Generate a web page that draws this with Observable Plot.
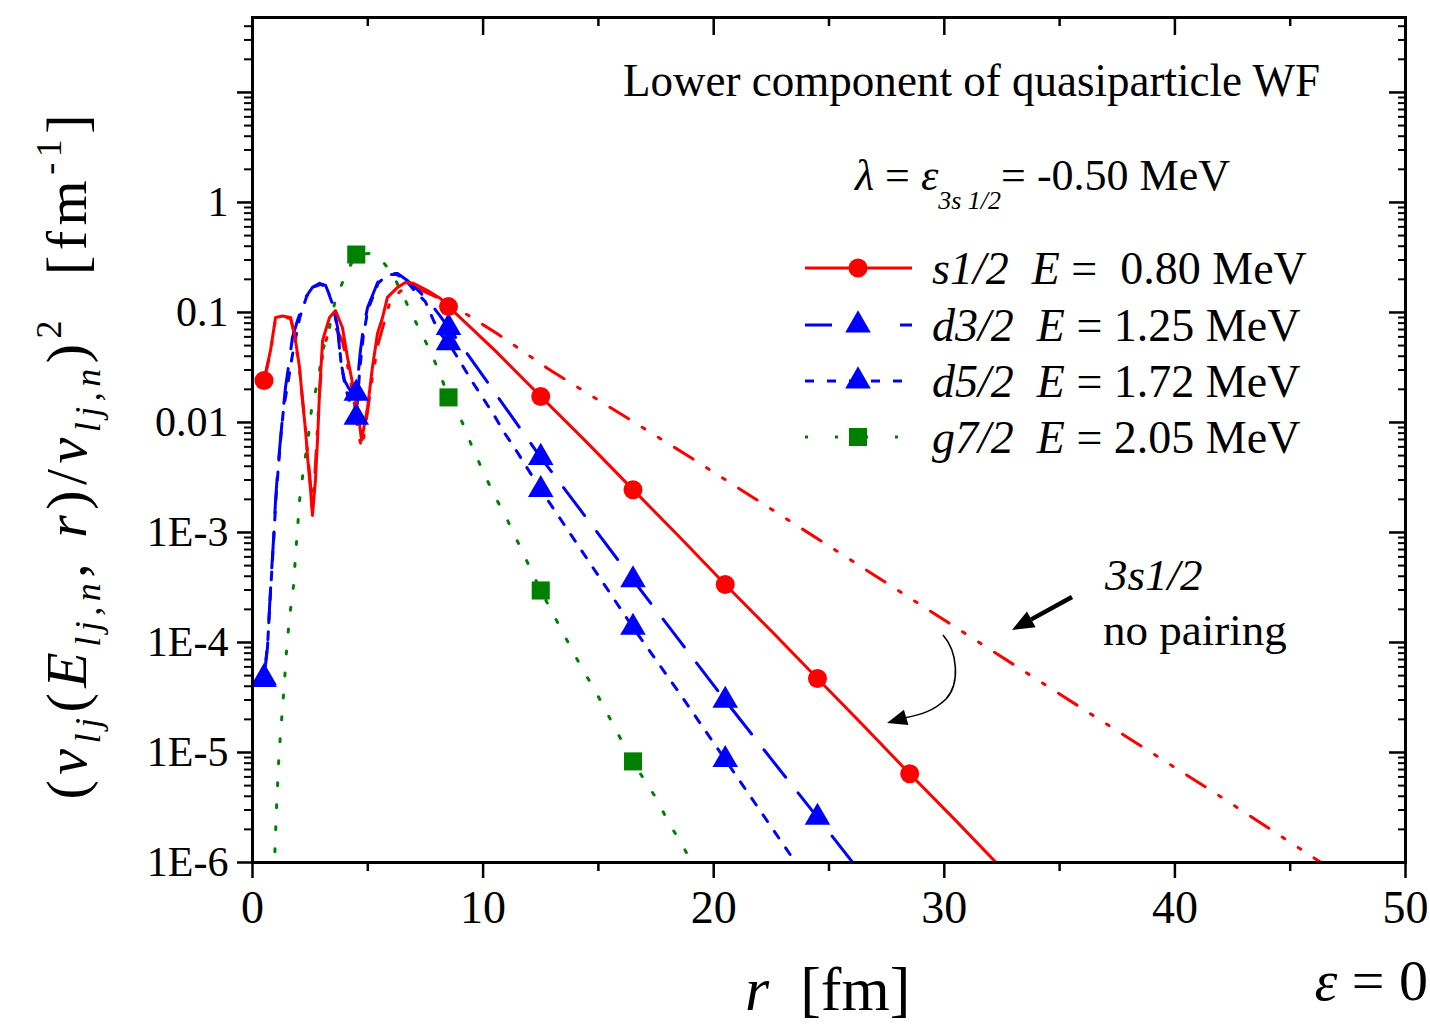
<!DOCTYPE html>
<html><head><meta charset="utf-8">
<script src="https://cdn.jsdelivr.net/npm/d3@7"></script>
<script src="https://cdn.jsdelivr.net/npm/@observablehq/plot@0.6"></script>
<style>
html,body{margin:0;padding:0;background:#fff;}
#chart svg{display:block;}
</style></head><body><div id="chart"></div>
<script>
const FONT = "'Liberation Serif','Times New Roman',serif";

// s1/2, E = 0.80 MeV (solid red)
const s12R = [0.5,0.78,1.0,1.3,1.65,1.82,2.04,2.17,2.30,2.39,2.52,2.60,2.73,2.82,2.91,3.04,3.34,3.60,3.90,4.12,4.34,4.55,4.73,4.99,5.20,5.42,5.64,5.85,6.29,6.63,6.98,7.59,8.15,8.5,10.5,12.5,14.5,16.5,18.5,20.5,22.5,24.5,26.5,28.5,30.5,32.5];
const s12V = [0.0241,0.045,0.090,0.093,0.090,0.0645,0.0316,0.0158,0.0085,0.0048,0.0024,0.00143,0.0030,0.0069,0.0195,0.0556,0.090,0.104,0.073,0.039,0.0226,0.0137,0.0069,0.0137,0.0316,0.0645,0.090,0.137,0.169,0.187,0.184,0.158,0.134,0.113,0.0455,0.0172,0.0066,0.00245,9.2e-4,3.37e-4,1.27e-4,4.7e-5,1.75e-5,6.4e-6,2.4e-6,8.8e-7];
const s12MarkR = [0.5,8.5,12.5,16.5,20.5,24.5,28.5];
const s12MarkV = [0.0241,0.113,0.0172,0.00245,3.37e-4,4.7e-5,6.4e-6];

// 3s1/2 no pairing (dash-dot red)
const npR = [0.5,0.78,1.0,1.3,1.65,1.82,2.04,2.2,2.35,2.5,2.58,2.7,2.8,2.9,3.05,3.3,3.6,3.9,4.15,4.4,4.6,4.75,4.95,5.2,5.45,5.7,5.98,6.55,7.0,7.6,8.5,10.6,12.8,14.4,16.7,19.0,22.0,25.1,28.2,32.0,36.8,41.9,46.5];
const npV = [0.0235,0.044,0.088,0.091,0.088,0.063,0.030,0.014,0.0065,0.003,0.0017,0.0032,0.0075,0.018,0.045,0.066,0.073,0.055,0.031,0.016,0.0075,0.0058,0.011,0.026,0.052,0.08,0.129,0.165,0.17,0.15,0.122,0.0644,0.031,0.0191,0.0096,0.0048,0.0019,7.3e-4,2.79e-4,8.6e-5,1.95e-5,4.07e-6,9.5e-7];

// d3/2, E = 1.25 MeV (long dash blue)
const d32R = [0.5,0.65,0.74,0.82,0.91,1.0,1.08,1.21,1.30,1.43,1.60,1.73,1.95,2.30,2.60,2.91,3.17,3.47,3.69,3.82,3.99,4.2,4.5,4.68,4.8,4.99,5.46,5.85,6.29,6.72,7.1,7.6,8.1,8.5,10.5,12.5,14.5,16.5,18.5,20.5,22.5,24.5,26.2];
const d32V = [4.8e-5,9e-5,2.1e-4,4.2e-4,8.5e-4,1.95e-3,3.4e-3,6.9e-3,0.0111,0.0208,0.0366,0.059,0.0845,0.137,0.169,0.184,0.176,0.123,0.073,0.0366,0.0241,0.020,0.0184,0.045,0.07,0.111,0.195,0.226,0.226,0.195,0.165,0.13,0.095,0.073,0.0188,0.0048,1.34e-3,3.7e-4,1.05e-4,2.97e-5,8.7e-6,2.57e-6,9e-7];
const d32MarkR = [0.5,4.5,8.5,12.5,16.5,20.5,24.5];
const d32MarkV = [4.8e-5,0.0184,0.073,0.0048,3.7e-4,2.97e-5,2.57e-6];

// d5/2, E = 1.72 MeV (short dash blue)
const d52R = [0.5,0.66,0.75,0.84,0.93,1.02,1.12,1.26,1.35,1.52,1.69,1.86,2.05,2.35,2.65,2.95,3.2,3.5,3.72,3.85,4.05,4.3,4.5,4.65,4.8,5.0,5.45,5.85,6.25,6.7,7.0,7.5,7.85,8.15,8.5,9.03,9.5,10.0,10.5,10.95,11.5,12.5,14.5,16.5,18.5,20.5,22.5,23.7];
const d52V = [4.6e-5,1e-4,2.2e-4,4.6e-4,9.5e-4,2.1e-3,3.9e-3,8.8e-3,0.0135,0.0217,0.0366,0.057,0.09,0.14,0.17,0.18,0.17,0.115,0.065,0.033,0.02,0.0135,0.0111,0.03,0.06,0.105,0.185,0.22,0.222,0.19,0.16,0.125,0.0845,0.064,0.053,0.035,0.024,0.0166,0.0114,0.0079,0.0053,0.00245,5.8e-4,1.37e-4,3.5e-5,8.6e-6,2.1e-6,9e-7];
const d52MarkR = [0.5,4.5,8.5,12.5,16.5,20.5];
const d52MarkV = [4.6e-5,0.0111,0.053,0.00245,1.37e-4,8.6e-6];

// g7/2, E = 2.05 MeV (dotted green)
const g72R = [0.9,0.95,1.04,1.13,1.21,1.30,1.39,1.47,1.60,1.78,1.86,1.95,2.04,2.21,2.39,2.56,2.86,3.04,3.30,3.56,4.03,4.5,5.07,5.5,6.07,6.98,7.55,8.07,8.5,9.1,9.54,10.02,10.54,11.06,12.5,14.0,15.09,16.0,16.5,17.04,17.56,18.04,18.56,19.1];
const g72V = [5e-7,9.5e-7,3.1e-6,7.9e-6,1.43e-5,2.5e-5,4.5e-5,8.1e-5,1.65e-4,3.3e-4,5.9e-4,1.06e-3,1.95e-3,3.74e-3,6.6e-3,0.0131,0.0256,0.045,0.067,0.121,0.221,0.336,0.344,0.316,0.226,0.09,0.052,0.030,0.0169,0.01,5.9e-3,3.5e-3,2.08e-3,1.29e-3,2.97e-4,7.5e-5,2.97e-5,1.29e-5,8.3e-6,5.4e-6,3.7e-6,2.3e-6,1.55e-6,9.5e-7];
const g72MarkR = [4.5,8.5,12.5,16.5];
const g72MarkV = [0.336,0.0169,2.97e-4,8.3e-6];

// axes
const xMajorTicks = [0,10,20,30,40,50];
const xMinorTicks = [5,15,25,35,45];
const yMajorTicks = [1e-6,1e-5,1e-4,1e-3,1e-2,1e-1,1,10];
const yTickLabels = ["1E-6","1E-5","1E-4","1E-3","0.01","0.1","1",""];
const yMinorTicks = [];
for (let e = -6; e <= 1; e++) for (let k = 2; k <= 9; k++) { const v = k * Math.pow(10, e); if (v < 48) yMinorTicks.push(+v.toPrecision(3)); }

// legend
const legendNames = ["s1/2","d3/2","d5/2","g7/2"];
const legendRest = [" =  0.80 MeV"," = 1.25 MeV"," = 1.72 MeV"," = 2.05 MeV"];

const rows = (R, V) => R.map((r, i) => ({r, v: V[i]}));

const RED = "#ff0000", BLUE = "#0000ff", GREEN = "#008000";
const TRI_R = 9.5, SQ_R = 10.2, CIRC_R = 9.5;
const styles = {
  s12: {stroke: RED, dash: null},
  np: {stroke: RED, dash: "22,16,3,16,3,16"},
  d32: {stroke: BLUE, dash: "35,20"},
  d52: {stroke: BLUE, dash: "8,12"},
  g72: {stroke: GREEN, dash: "3,19"}
};

const lineMark = (data, s) => Plot.line(data, {x: "r", y: "v", stroke: s.stroke, strokeWidth: 3, strokeDasharray: s.dash, clip: true});

const chart = Plot.plot({
  width: 1430, height: 1027,
  marginLeft: 252, marginRight: 25, marginTop: 17, marginBottom: 165,
  style: {background: "white", fontFamily: FONT, color: "black"},
  x: {domain: [0, 50]},
  y: {type: "log", domain: [1e-6, 48]},
  marks: [
    lineMark(rows(npR, npV), styles.np),
    lineMark(rows(g72R, g72V), styles.g72),
    lineMark(rows(d52R, d52V), styles.d52),
    lineMark(rows(d32R, d32V), styles.d32),
    lineMark(rows(s12R, s12V), styles.s12),
    Plot.dot(rows(g72MarkR, g72MarkV), {x: "r", y: "v", symbol: "square", r: SQ_R, fill: GREEN}),
    Plot.dot(rows(d52MarkR, d52MarkV), {x: "r", y: "v", symbol: "triangle", r: TRI_R, fill: BLUE}),
    Plot.dot(rows(d32MarkR, d32MarkV), {x: "r", y: "v", symbol: "triangle", r: TRI_R, fill: BLUE}),
    Plot.dot(rows(s12MarkR, s12MarkV), {x: "r", y: "v", symbol: "circle", r: CIRC_R, fill: RED}),
    Plot.axisX({ticks: xMajorTicks, tickSize: 16, tickPadding: 12, fontSize: 46, strokeWidth: 2.5, label: null, tickFormat: d => String(d)}),
    Plot.axisX({ticks: xMinorTicks, tickSize: 9, strokeWidth: 2.5, label: null, tickFormat: () => ""}),
    Plot.axisX({anchor: "top", ticks: xMajorTicks, tickSize: 17, dy: 17, strokeWidth: 2.5, label: null, tickFormat: () => ""}),
    Plot.axisX({anchor: "top", ticks: xMinorTicks, tickSize: 8, dy: 8, strokeWidth: 2.5, label: null, tickFormat: () => ""}),
    Plot.axisY({ticks: yMajorTicks, tickSize: 15, tickPadding: 9, fontSize: 42, strokeWidth: 2.5, label: null, tickFormat: d => yTickLabels[yMajorTicks.indexOf(d)]}),
    Plot.axisY({ticks: yMinorTicks, tickSize: 8, strokeWidth: 2, label: null, tickFormat: () => ""}),
    Plot.axisY({anchor: "right", ticks: yMajorTicks, tickSize: 17, dx: -17, strokeWidth: 2.5, label: null, tickFormat: () => ""}),
    Plot.axisY({anchor: "right", ticks: yMinorTicks, tickSize: 8, dx: -8, strokeWidth: 2, label: null, tickFormat: () => ""}),
    Plot.frame({stroke: "black", strokeWidth: 3})
  ]
});
document.getElementById("chart").appendChild(chart);

// ---------- annotations ----------
const svg = d3.select(chart);
const g = svg.append("g").attr("class", "annotations");

function richText(parent, {x, y, size, parts, anchor = "start", transform = null, textLength = null, adjust = "spacingAndGlyphs"}) {
  const t = parent.append("text")
    .attr("x", x).attr("y", y)
    .attr("font-size", size).attr("font-family", FONT).attr("fill", "black")
    .attr("text-anchor", anchor).style("white-space", "pre");
  if (transform) t.attr("transform", transform);
  let shift = 0;
  for (const p of parts) {
    const ts = t.append("tspan").text(p.t);
    if (p.i) ts.attr("font-style", "italic");
    if (p.size) ts.attr("font-size", p.size);
    const target = p.dy || 0;
    if (target !== shift) { ts.attr("dy", target - shift); shift = target; }
  }
  if (textLength) t.attr("textLength", textLength).attr("lengthAdjust", adjust);
  return t;
}

// title
richText(g, {x: 623, y: 96, size: 46, parts: [{t: "Lower component of quasiparticle WF"}], textLength: 697});
// lambda line
richText(g, {x: 855, y: 190, size: 44, parts: [
  {t: "λ", i: true}, {t: " = "}, {t: "ε", i: true},
  {t: "3s 1/2", i: true, size: 26, dy: 19},
  {t: "= -0.50 MeV", dy: 0}
]});

// legend
const legendY = [268, 325, 381, 437];
const legendStyles = [styles.s12, styles.d32, styles.d52, styles.g72];
const legendDash = [null, "27,68,12", "9,13", "3,27"];
const legendSym = [d3.symbolCircle, d3.symbolTriangle, d3.symbolTriangle, d3.symbolSquare];
const legendR = [CIRC_R, TRI_R, TRI_R, SQ_R];
legendNames.forEach((name, i) => {
  const y = legendY[i];
  const ln = g.append("line").attr("x1", 805).attr("x2", 912).attr("y1", y).attr("y2", y)
    .attr("stroke", legendStyles[i].stroke).attr("stroke-width", 3);
  if (legendDash[i]) ln.attr("stroke-dasharray", legendDash[i]);
  g.append("path").attr("transform", `translate(858,${y})`)
    .attr("d", d3.symbol(legendSym[i], Math.PI * legendR[i] * legendR[i])())
    .attr("fill", legendStyles[i].stroke);
  richText(g, {x: 932, y: y + 16, size: 46, parts: [
    {t: name, i: true}, {t: "  "}, {t: "E", i: true}, {t: legendRest[i]}
  ]});
});

// no pairing annotation
richText(g, {x: 1105, y: 590, size: 45, parts: [{t: "3s1/2", i: true}]});
richText(g, {x: 1103, y: 645, size: 45, parts: [{t: "no pairing"}]});

function arrowHead(parent, tip, from, len, half) {
  const dx = tip[0] - from[0], dy = tip[1] - from[1];
  const L = Math.hypot(dx, dy), ux = dx / L, uy = dy / L;
  const bx = tip[0] - ux * len, by = tip[1] - uy * len;
  const nx = -uy, ny = ux;
  parent.append("path")
    .attr("d", `M${tip[0]},${tip[1]}L${bx + nx * half},${by + ny * half}L${bx - nx * half},${by - ny * half}Z`)
    .attr("fill", "black");
  return [bx, by];
}
// straight arrow
{
  const start = [1072, 597], tip = [1012, 630];
  const base = arrowHead(g, tip, start, 22, 9);
  g.append("line").attr("x1", start[0]).attr("y1", start[1]).attr("x2", base[0]).attr("y2", base[1])
    .attr("stroke", "black").attr("stroke-width", 4.5);
}
// curved arrow
{
  g.append("path").attr("d", "M943,635 C958,652 960,684 946,699 C934,711 920,715 904,718")
    .attr("fill", "none").attr("stroke", "black").attr("stroke-width", 1.6);
  arrowHead(g, [887, 723], [904, 718], 20, 8);
}

// x axis label
richText(g, {x: 745, y: 1010, size: 62, parts: [{t: "r", i: true}, {t: "  [fm]"}]});
// epsilon = 0
richText(g, {x: 1428, y: 1000, size: 58, anchor: "end", parts: [{t: "ε", i: true}, {t: " = 0"}]});

// y axis label
richText(g, {x: 0, y: 0, size: 58, anchor: "middle", transform: "translate(86,457) rotate(-90)", textLength: 685, adjust: "spacing", parts: [
  {t: "("}, {t: "v", i: true}, {t: "lj", i: true, size: 36, dy: 14},
  {t: "(", dy: 0}, {t: "E", i: true}, {t: "lj,n", i: true, size: 36, dy: 14},
  {t: ", ", dy: 0}, {t: "r", i: true}, {t: ")/"}, {t: "v", i: true},
  {t: "lj,n", i: true, size: 36, dy: 14}, {t: ")", dy: 0},
  {t: "2", size: 36, dy: -25}, {t: "  [fm", dy: 0}, {t: "-1", size: 36, dy: -25}, {t: "]", dy: 0}
]});
</script></body></html>
